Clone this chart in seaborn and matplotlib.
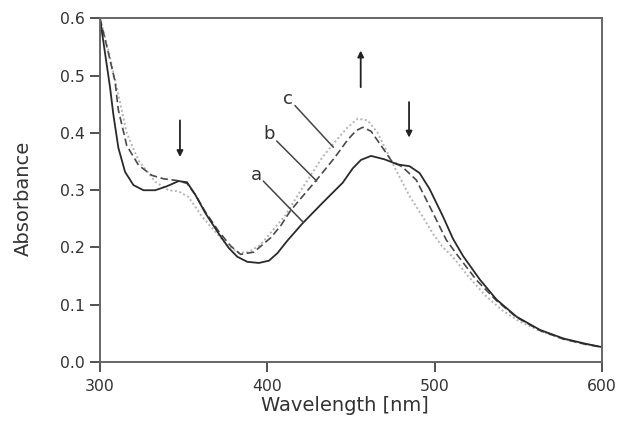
import matplotlib
matplotlib.use("Agg")
import matplotlib.pyplot as plt
import seaborn as sns
import pandas as pd

# spectra (wavelength in nm, absorbance)
wl_a = [300, 302, 304, 306, 308, 311, 315, 320, 326, 333, 340, 347, 352, 357, 363, 371,
        377, 382, 388, 395, 401, 406, 412, 421, 433, 445, 451, 456, 462, 470, 478, 485,
        491, 497, 505, 511, 517, 527, 537, 549, 563, 577, 590, 600]
abs_a = [0.600, 0.560, 0.520, 0.480, 0.432, 0.374, 0.332, 0.309, 0.300, 0.300, 0.307, 0.316,
         0.314, 0.292, 0.260, 0.224, 0.199, 0.184, 0.175, 0.173, 0.177, 0.190, 0.212, 0.242,
         0.278, 0.313, 0.338, 0.353, 0.360, 0.354, 0.345, 0.342, 0.330, 0.302, 0.254, 0.215,
         0.185, 0.144, 0.109, 0.079, 0.056, 0.041, 0.032, 0.026]

wl_b = [300, 305, 309, 311, 316, 323, 331, 338, 346, 352, 357, 363, 371, 378, 384, 392,
        402, 408, 414, 423, 430, 440, 448, 453, 457, 462, 468, 474, 481, 489, 497, 507,
        514, 525, 537, 549, 563, 577, 590, 600]
abs_b = [0.600, 0.540, 0.490, 0.440, 0.378, 0.344, 0.326, 0.320, 0.317, 0.312, 0.292, 0.262,
         0.228, 0.203, 0.188, 0.192, 0.217, 0.238, 0.265, 0.296, 0.320, 0.356, 0.388, 0.404,
         0.410, 0.403, 0.378, 0.352, 0.340, 0.318, 0.272, 0.213, 0.185, 0.143, 0.107, 0.078,
         0.055, 0.040, 0.031, 0.026]

wl_c = [300, 305, 310, 316, 323, 333, 341, 347, 353, 361, 369, 377, 383, 389, 396, 405,
        411, 419, 427, 433, 440, 448, 454, 460, 466, 472, 478, 485, 493, 499, 505, 511,
        520, 530, 540, 550, 563, 577, 590, 600]
abs_c = [0.600, 0.545, 0.480, 0.400, 0.352, 0.315, 0.300, 0.298, 0.288, 0.254, 0.227, 0.201,
         0.191, 0.192, 0.205, 0.236, 0.257, 0.295, 0.331, 0.358, 0.383, 0.410, 0.425, 0.422,
         0.400, 0.364, 0.329, 0.290, 0.253, 0.224, 0.200, 0.183, 0.150, 0.117, 0.091, 0.072,
         0.054, 0.040, 0.031, 0.026]

# curve labels: text, text centre, leader start, leader end
curve_labels = ["a", "b", "c"]
label_pos = [(393.5, 0.327), (401.0, 0.398), (412.6, 0.460)]
leader_start = [(397.6, 0.316), (405.6, 0.386), (416.5, 0.448)]
leader_end = [(421.5, 0.244), (429.5, 0.316), (439.5, 0.375)]

# arrows showing the trend: wavelength, tail, head
arrow_wl = [347.8, 455.8, 484.7]
arrow_tail = [0.422, 0.480, 0.454]
arrow_head = [0.358, 0.544, 0.392]

sns.set_style("ticks")
plt.rcParams["font.family"] = ["DejaVu Sans"]

df = pd.concat([
    pd.DataFrame({"wl": wl_a, "A": abs_a, "curve": "a"}),
    pd.DataFrame({"wl": wl_b, "A": abs_b, "curve": "b"}),
    pd.DataFrame({"wl": wl_c, "A": abs_c, "curve": "c"}),
])

fig = plt.figure(figsize=(6.21, 4.28), dpi=100)
ax = fig.add_axes([0.161, 0.1542, 0.8084, 0.8026])

styles = {
    "c": dict(color="#b4b4b4", lw=1.4, linestyle=(0, (1, 1.3))),
    "b": dict(color="#4a4a4a", lw=1.2, linestyle=(0, (4.5, 2.2))),
    "a": dict(color="#2a2a2a", lw=1.3, linestyle="-"),
}
for name in ["c", "b", "a"]:
    sns.lineplot(data=df[df["curve"] == name], x="wl", y="A", ax=ax,
                 sort=False, **styles[name])

for txt, (tx, ty), (sx, sy), (ex, ey) in zip(curve_labels, label_pos,
                                              leader_start, leader_end):
    ax.text(tx, ty, txt, fontsize=13, color="#333333", ha="center", va="center")
    ax.plot([sx, ex], [sy, ey], color="#444444", lw=1.1)

for x, y0, y1 in zip(arrow_wl, arrow_tail, arrow_head):
    ax.annotate("", xy=(x, y1), xytext=(x, y0),
                arrowprops=dict(arrowstyle="-|>", color="#222222", lw=1.3,
                                mutation_scale=9, shrinkA=0, shrinkB=0))

ax.set_xlim(300, 600)
ax.set_ylim(0, 0.6)
ax.set_xticks([300, 400, 500, 600])
yt = [0.0, 0.1, 0.2, 0.3, 0.4, 0.5, 0.6]
ax.set_yticks(yt)
ax.set_yticklabels([f"{v:.1f}" for v in yt])
ax.set_xlabel("Wavelength [nm]", fontsize=14, color="#333333")
ax.set_ylabel("Absorbance", fontsize=14, color="#333333")
ax.xaxis.set_label_coords(0.488, -0.128)
ax.xaxis.label.set_va("center")
ax.yaxis.set_label_coords(-0.153, 0.475)
ax.yaxis.label.set_va("center")
ax.tick_params(labelsize=11.3, colors="#333333", length=7, width=1.2, pad=4)
ax.tick_params(axis="x", pad=5)
for s in ax.spines.values():
    s.set_visible(True)
    s.set_color("#666666")
    s.set_linewidth(1.4)

fig.savefig("out.png", dpi=100)
